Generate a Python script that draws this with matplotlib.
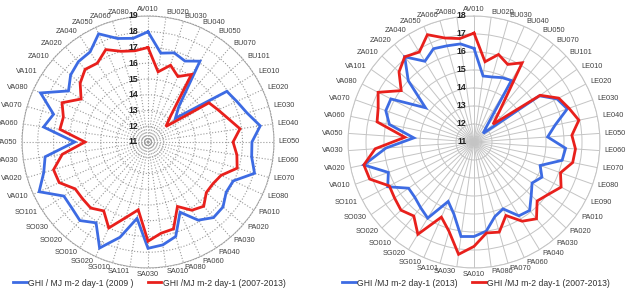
import numpy as np
import matplotlib
matplotlib.use('Agg')
import matplotlib.pyplot as plt
from matplotlib.lines import Line2D

plt.rcParams['font.family'] = ['Liberation Sans', 'DejaVu Sans']

# ---------------- data ----------------
cats_left = ['AV010', 'BU020', 'BU030', 'BU040', 'BU050', 'BU070', 'BU101',
             'LE010', 'LE020', 'LE030', 'LE040', 'LE050', 'LE060', 'LE070', 'LE080',
             'PA010', 'PA020', 'PA030', 'PA040', 'PA060', 'PA080',
             'SA010', 'SA030', 'SA101', 'SG010', 'SG020',
             'SO010', 'SO020', 'SO030', 'SO101',
             'VA010', 'VA020', 'VA030', 'VA050', 'VA060', 'VA070', 'VA080', 'VA101',
             'ZA010', 'ZA020', 'ZA040', 'ZA050', 'ZA060', 'ZA080']
ghi_2009 = [18.0, 16.7, 16.9, 16.65, 17.1, 14.0, 13.3,
            16.95, 17.2, 17.55, 18.2, 17.6, 17.65, 18.05, 16.95,
            16.9, 17.3, 17.35, 16.9, 15.9, 17.25,
            17.6, 17.75, 15.9, 17.3, 18.4,
            17.1, 17.6, 17.4, 17.35,
            18.6, 17.9, 17.6, 15.65, 17.7, 17.25, 18.5, 17.0,
            17.5, 17.75, 17.8, 18.55, 17.85, 17.65]
ghi_0713_left = [17.0, 15.5, 16.08, 15.57, 16.1, 13.2, 12.5,
                 15.6, 15.9, 16.3, 16.9, 16.4, 16.7, 16.9, 16.1,
                 15.9, 15.9, 16.4, 16.15, 15.5, 16.75,
                 16.85, 17.3, 15.35, 16.0, 17.0,
                 16.2, 16.55, 16.5, 16.5,
                 17.2, 17.25, 16.5, 15.0, 16.65, 16.6, 17.0, 16.05,
                 16.7, 17.1, 16.95, 17.45, 17.0, 16.85]

cats_right = ['AV010', 'BU020', 'BU030', 'BU040', 'BU050', 'BU070', 'BU101',
              'LE010', 'LE020', 'LE030', 'LE040', 'LE050', 'LE060', 'LE070', 'LE080', 'LE090',
              'PA010', 'PA020', 'PA030', 'PA040', 'PA060', 'PA070', 'PA080',
              'SA010', 'SA030', 'SA101', 'SG010', 'SG020',
              'SO010', 'SO020', 'SO030', 'SO101',
              'VA010', 'VA020', 'VA030', 'VA050', 'VA060', 'VA070', 'VA080', 'VA101',
              'ZA010', 'ZA020', 'ZA040', 'ZA050', 'ZA060', 'ZA080']
ghi_2013 = [16.2, 14.7, 14.75, 14.9, 15.0, 12.1, 11.7,
            15.45, 16.2, 16.5, 15.6, 15.1, 16.1, 16.0, 14.9, 15.25,
            14.95, 15.35, 15.9, 15.8, 15.05, 15.3, 16.0,
            16.25, 16.3, 15.15, 14.6, 15.95,
            15.7, 15.5, 15.45, 16.4,
            16.05, 17.25, 15.9, 14.35, 15.8, 16.2, 16.2, 14.3,
            16.0, 17.1, 16.25, 16.65, 16.55, 16.5]
ghi_0713_right = [17.05, 15.5, 16.05, 15.7, 16.15, 13.3, 12.45,
                  15.5, 16.3, 16.6, 16.95, 16.45, 16.65, 16.6, 16.1, 16.45,
                  16.05, 15.8, 16.5, 16.15, 15.45, 16.2, 16.1,
                  16.8, 17.3, 16.15, 15.55, 17.0,
                  16.3, 16.55, 16.4, 16.3,
                  17.15, 17.25, 16.5, 14.85, 16.5, 16.65, 17.0, 15.95,
                  16.7, 17.1, 16.85, 17.5, 17.0, 16.8]

rings_left = [11, 12, 13, 14, 15, 16, 17, 18, 19]
rings_right = [11, 12, 13, 14, 15, 16, 17, 18]
legend_left = ['GHI / MJ m-2 day-1 (2009 )', 'GHI /MJ m-2 day-1 (2007-2013)']
legend_right = ['GHI /MJ m-2 day-1 (2013)', 'GHI /MJ m-2 day-1 (2007-2013)']

# ---------------- style ----------------
BLUE = '#3D6BE3'
RED = '#E8201C'
W, H = 627, 295
fig = plt.figure(figsize=(W / 100, H / 100), dpi=100)


def radar(cx, cy, R, cats, s1, s2, rings, gcolor, gstyle, glw, num_off):
    ax = fig.add_axes([(cx - R) / W, (H - cy - R) / H, 2 * R / W, 2 * R / H],
                      projection='polar')
    n = len(cats)
    theta = np.arange(n) * 2 * np.pi / n
    ax.set_theta_zero_location('N')
    ax.set_theta_direction(-1)
    ax.set_facecolor('none')
    ax.set_xticks(theta)
    ax.set_xticklabels([])
    ax.set_yticks(rings)
    ax.set_yticklabels([])
    ax.set_ylim(rings[0], rings[-1])
    ax.tick_params(length=0)
    ax.grid(True, color=gcolor, linestyle=gstyle, linewidth=glw)
    ax.spines['polar'].set_color(gcolor)
    ax.spines['polar'].set_linestyle(gstyle)
    ax.spines['polar'].set_linewidth(glw)

    th_c = np.append(theta, theta[0])
    ax.plot(th_c, np.append(s1, s1[0]), color=BLUE, lw=2.0, solid_joinstyle='miter', zorder=4)
    ax.plot(th_c, np.append(s2, s2[0]), color=RED, lw=2.0, solid_joinstyle='miter', zorder=5)

    for th, c in zip(theta, cats):
        s, co = np.sin(th), np.cos(th)
        if abs(s) < 0.05:
            ha = 'center'
            va = 'bottom' if co > 0 else 'top'
            gap = 2.5
        else:
            ha = 'left' if s > 0 else 'right'
            va = 'center'
            gap = 3.5
        ax.annotate(c, xy=(th, rings[-1]), xytext=(gap * s, gap * co),
                    textcoords='offset points', ha=ha, va=va, fontsize=5.3,
                    color='#404040', annotation_clip=False)

    for r in rings:
        ax.annotate(str(r), xy=(0, r), xytext=(-num_off, 0), textcoords='offset points',
                    ha='right', va='center', fontsize=6.3, fontweight='bold',
                    color='#202020', annotation_clip=False, zorder=6)
    return ax


axL = radar(148, 142, 126, cats_left, ghi_2009, ghi_0713_left, rings_left,
            '#9a9a9a', ':', 0.8, 7.2)
axR = radar(474, 142, 126, cats_right, ghi_2013, ghi_0713_right, rings_right,
            '#c4c4c4', '-', 0.7, 5.5)

for labels, xc in ((legend_left, 149.5), (legend_right, 476)):
    handles = [Line2D([], [], color=BLUE, lw=2.0), Line2D([], [], color=RED, lw=2.0)]
    fig.legend(handles, labels, loc='center', bbox_to_anchor=(xc / W, 1 - 283 / H),
               ncol=2, frameon=False, fontsize=6.2, handlelength=1.6,
               handletextpad=0.15, columnspacing=1.6, labelcolor='#303030')

fig.savefig('out.png', dpi=100)
